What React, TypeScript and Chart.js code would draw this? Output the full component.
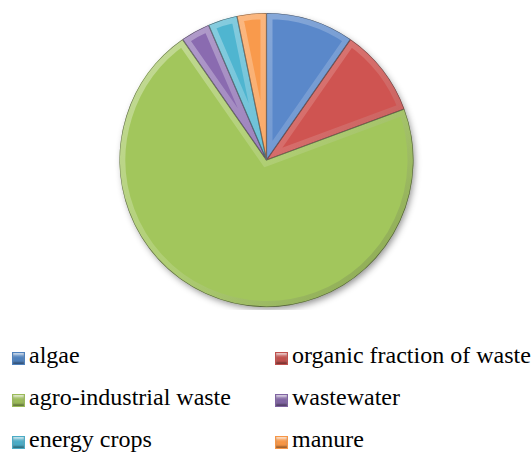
import React, { useEffect, useRef } from "react";
import { Chart, registerables } from "chart.js";

Chart.register(...registerables);

const categories = [
  "algae",
  "organic fraction of waste",
  "agro-industrial waste",
  "wastewater",
  "energy crops",
  "manure",
];
const values = [3, 3, 22, 1, 1, 1];
const colors = ["#4F81BD", "#C0504D", "#9BBB59", "#8064A2", "#4BACC6", "#F79646"];
const sliceColors = ["#5A88CA", "#CF5451", "#A2C65C", "#8A6BB0", "#4FB5D0", "#F99A4C"];

const shadowPlugin = {
  id: "pieShadow",
  beforeDatasetsDraw(chart: any) {
    const meta = chart.getDatasetMeta(0);
    const arc = meta.data[0];
    if (!arc) return;
    const { x, y, outerRadius } = arc.getProps(["x", "y", "outerRadius"], true);
    const ctx = chart.ctx;
    ctx.save();
    ctx.shadowColor = "rgba(0,0,0,0.45)";
    ctx.shadowBlur = 7;
    ctx.shadowOffsetX = 2;
    ctx.shadowOffsetY = 3;
    ctx.beginPath();
    ctx.arc(x, y, outerRadius - 1, 0, Math.PI * 2);
    ctx.fillStyle = "#888";
    ctx.fill();
    ctx.restore();
  },
};

const bevelPlugin = {
  id: "bevel",
  afterDatasetDraw(chart: any) {
    const meta = chart.getDatasetMeta(0);
    const ctx = chart.ctx;
    meta.data.forEach((arc: any) => {
      const { x, y, startAngle, endAngle, outerRadius } = arc.getProps(
        ["x", "y", "startAngle", "endAngle", "outerRadius"],
        true
      );
      ctx.save();
      ctx.beginPath();
      ctx.moveTo(x, y);
      ctx.arc(x, y, outerRadius, startAngle, endAngle);
      ctx.closePath();
      ctx.clip();
      const g = ctx.createLinearGradient(x - outerRadius, y - outerRadius, x + outerRadius, y + outerRadius);
      g.addColorStop(0, "rgba(255,255,255,0.4)");
      g.addColorStop(0.5, "rgba(255,255,255,0.15)");
      g.addColorStop(1, "rgba(0,0,0,0.2)");
      ctx.lineWidth = 12;
      ctx.strokeStyle = g;
      ctx.stroke();
      ctx.lineWidth = 1.2;
      ctx.strokeStyle = "rgba(30,30,30,0.55)";
      ctx.stroke();
      ctx.restore();
    });
  },
};

function PieChart() {
  const ref = useRef<HTMLCanvasElement>(null);
  useEffect(() => {
    if (!ref.current) return;
    const chart = new Chart(ref.current, {
      type: "pie",
      data: {
        labels: categories,
        datasets: [
          {
            data: values,
            backgroundColor: sliceColors,
            borderWidth: 0,
          },
        ],
      },
      options: {
        animation: false,
        responsive: false,
        maintainAspectRatio: false,
        layout: { padding: { top: 13, bottom: 3, left: 2, right: 0 } },
        plugins: {
          legend: { display: false },
          tooltip: { enabled: false },
        },
      },
      plugins: [shadowPlugin, bevelPlugin],
    });
    return () => chart.destroy();
  }, []);
  return <canvas ref={ref} width={531} height={310} style={{ display: "block" }} />;
}

export default function App() {
  useEffect(() => {
    document.body.style.margin = "0";
  }, []);
  return (
    <div style={{ position: "relative", width: 531, height: 453, background: "#fff", overflow: "hidden" }}>
      <PieChart />
      {categories.map((c, i) => {
        const col = i % 2;
        const row = Math.floor(i / 2);
        const left = 12 + col * 263;
        const top = 343 + row * 42;
        return (
          <div
            key={c}
            style={{
              position: "absolute",
              left,
              top,
              height: 24,
              whiteSpace: "nowrap",
              fontFamily: "Liberation Serif",
              fontSize: 24,
              lineHeight: "24px",
              color: "#000",
            }}
          >
            <span
              style={{
                position: "absolute",
                left: 0,
                top: 9,
                width: 11,
                height: 11,
                border: "1px solid " + colors[i],
                background: `linear-gradient(180deg, ${colors[i]}aa 0%, ${colors[i]} 45%, ${colors[i]} 100%)`,
                boxShadow: "inset 0 -2px 2px rgba(0,0,0,0.35), inset 0 2px 2px rgba(255,255,255,0.5)",
              }}
            />
            <span style={{ position: "absolute", left: 17, top: 0 }}>{c}</span>
          </div>
        );
      })}
    </div>
  );
}
